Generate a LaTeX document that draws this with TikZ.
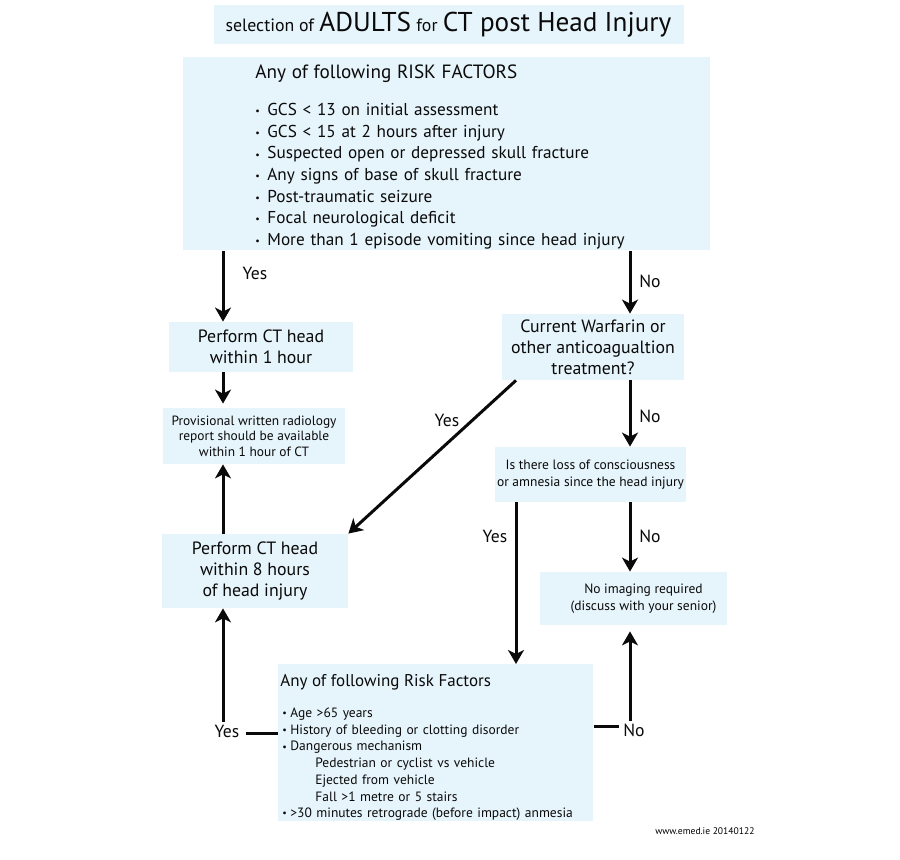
\documentclass[tikz,border=0pt]{standalone}
\usepackage{fontspec}
\setmainfont{PT Sans}
\usetikzlibrary{arrows.meta}
\definecolor{my_lightblue}{HTML}{E6F4FB}
\definecolor{my_black}{HTML}{0A0A0A}
\newcommand{\bul}[1]{\makebox[#1][l]{\raisebox{0.4pt}{\fontsize{5}{5}\selectfont\textbullet}}}

\begin{document}
\begin{tikzpicture}[
    x=0.5pt, y=-0.5pt,
    box/.style={fill=my_lightblue, inner sep=0pt, align=center, text=my_black},
    bigtext/.style={font=\fontsize{8.9}{10.6}\selectfont},
    smalltext/.style={font=\fontsize{6.75}{8.4}\selectfont},
    lab/.style={font=\fontsize{8.8}{11}\selectfont, inner sep=1pt, text=my_black},
    con/.style={line width=1.5pt, my_black},
    arr/.style={-{Stealth[length=7pt, width=8pt, inset=2pt]}, line width=1.5pt, my_black}
]

% ---------------------------------------------------------------
%  Flussdiagramm: CT nach Kopfverletzung bei Erwachsenen
% ---------------------------------------------------------------
\fill[white] (0, 0) rectangle (900, 860);
\useasboundingbox (0, 0) rectangle (900, 860);

% Spalten der Pfeile
\coordinate (colL) at (223, 0);
\coordinate (colM) at (516, 0);
\coordinate (colR) at (630, 0);

% Titel
\node[box, minimum width=235pt, minimum height=19.5pt] (title) at (448.5, 24.5)
    {{\fontsize{8.9}{10}\selectfont selection of} {\fontsize{13.6}{15}\selectfont ADULTS}
     {\fontsize{8.9}{10}\selectfont for} {\fontsize{13.6}{15}\selectfont CT post Head Injury}};

% Risikofaktoren (oben)
\node[box, anchor=north west, minimum height=96.5pt, text width=191.5pt, inner xsep=36pt,
    align=left, font=\fontsize{8.6}{10.8}\selectfont] (risk1) at (183, 57)
    {{\fontsize{9.6}{11}\selectfont\rule{0pt}{10pt}Any of following RISK FACTORS}\\[7.6pt]
     \bul{6pt}GCS < 13 on initial assessment\\
     \bul{6pt}GCS < 15 at 2 hours after injury\\
     \bul{6pt}Suspected open or depressed skull fracture\\
     \bul{6pt}Any signs of base of skull fracture\\
     \bul{6pt}Post-traumatic seizure\\
     \bul{6pt}Focal neurological deficit\\
     \bul{6pt}More than 1 episode vomiting since head injury};

% Linke Spalte
\node[box, bigtext, minimum width=92pt, minimum height=25pt] (ct1h) at (261, 347)
    {Perform CT head\\within 1 hour};
\node[box, smalltext, font=\fontsize{6.7}{7.8}\selectfont, minimum width=91pt,
    minimum height=28pt] (report) at (254, 436)
    {Provisional written radiology\\report should be available\\within 1 hour of CT};
\node[box, bigtext, minimum width=93pt, minimum height=37pt] (ct8h) at (255, 571)
    {Perform CT head\\within 8 hours\\of head injury};

% Rechte Spalte
\node[box, bigtext, minimum width=91pt, minimum height=33pt] (warfarin) at (593, 347)
    {Current Warfarin or\\other anticoagualtion\\treatment?};
\node[box, smalltext, minimum width=95.5pt, minimum height=27.5pt] (loc) at (590.5, 474.5)
    {Is there loss of consciousness\\or amnesia since the head injury};
\node[box, smalltext, minimum width=93.5pt, minimum height=26.5pt] (noimg) at (633.5, 598.5)
    {\hspace*{10pt}No imaging required\\\hspace*{10pt}(discuss with your senior)};

% Risikofaktoren (unten)
\node[box, anchor=north west, minimum height=78.5pt, text width=155.5pt, inner xsep=1pt,
    align=left, font=\fontsize{6.75}{8.35}\selectfont] (risk2) at (278, 664)
    {{\fontsize{8.5}{10}\selectfont\rule{0pt}{10.6pt}Any of following Risk Factors}\\[7.3pt]
     \hspace*{1pt}\bul{4pt}Age >65 years\\
     \hspace*{1pt}\bul{4pt}History of bleeding or clotting disorder\\
     \hspace*{1pt}\bul{4pt}Dangerous mechanism\\
     \hspace*{17.5pt}Pedestrian or cyclist vs vehicle\\
     \hspace*{17.5pt}Ejected from vehicle\\
     \hspace*{17.5pt}Fall >1 metre or 5 stairs\\
     \hspace*{1pt}\bul{4pt}>30 minutes retrograde (before impact) anmesia};

% Quelle
\node[anchor=east, inner sep=0pt, font=\fontsize{4.8}{5}\selectfont] (source) at (755, 831)
    {www.emed.ie 20140122};

% Beschriftungen
\node[lab] (yes1) at (255, 273) {Yes};
\node[lab] (no1) at (650, 281) {No};
\node[lab] (yes2) at (447, 420) {Yes};
\node[lab] (no2) at (650, 416) {No};
\node[lab] (yes3) at (495, 536) {Yes};
\node[lab] (no3) at (650, 536) {No};
\node[lab] (yes4) at (227, 731) {Yes};
\node[lab] (no4) at (634, 730) {No};

% Pfeile
\draw[arr] (risk1.south -| colL) -- (ct1h.north -| colL);
\draw[arr] (ct1h.south -| colL) -- ([yshift=2pt]report.north -| colL);
\draw[arr] (ct8h.north -| colL) -- (report.south -| colL);
\draw[arr] (risk1.south -| colR) -- (warfarin.north -| colR);
\draw[arr] (warfarin.south -| colR) -- (loc.north -| colR);
\draw[arr] (warfarin.south -| colM) -- (ct8h.north east);
\draw[arr] (loc.south -| colM) -- (risk2.north -| colM);
\draw[arr] (loc.south -| colR) -- (noimg.north -| colR);

% Rueckfuehrung aus unterem Kasten
\draw[con] ([yshift=-1.5pt]yes4.east -| risk2.west) -- ([xshift=2pt, yshift=-1.5pt]yes4.east);
\draw[arr] (yes4.north -| colL) -- (ct8h.south -| colL);
\draw[con] ([yshift=1.5pt]no4.west -| risk2.east) -- ([xshift=-1pt, yshift=1.5pt]no4.west);
\draw[arr] (no4.north -| colR) -- ([yshift=-3pt]noimg.south -| colR);

\end{tikzpicture}
\end{document}
